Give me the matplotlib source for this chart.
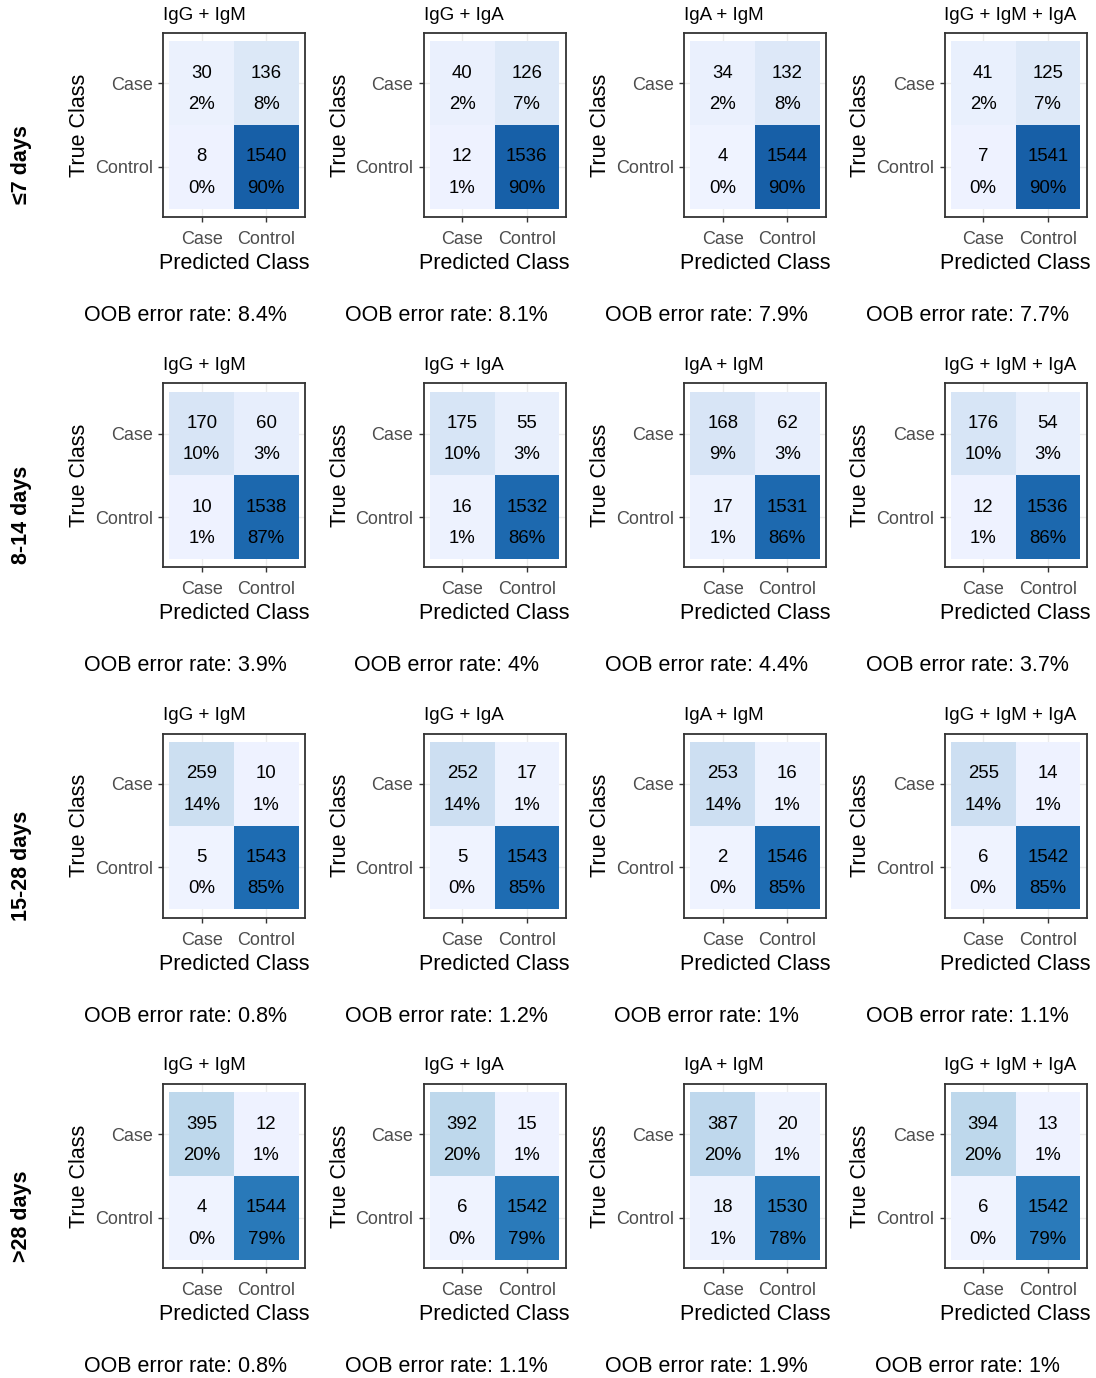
import matplotlib
matplotlib.use('Agg')
import matplotlib.pyplot as plt
import numpy as np
from matplotlib.colors import LinearSegmentedColormap

plt.rcParams['font.family'] = ['Liberation Sans', 'DejaVu Sans']

time_windows = ['≤7 days', '8-14 days', '15-28 days', '>28 days']
combos = ['IgG + IgM', 'IgG + IgA', 'IgA + IgM', 'IgG + IgM + IgA']
classes = ['Case', 'Control']

# confusion counts per panel:
# [Case->Case, Case->Control, Control->Case, Control->Control] (true -> predicted)
counts_7d = [[30, 136, 8, 1540], [40, 126, 12, 1536], [34, 132, 4, 1544], [41, 125, 7, 1541]]
counts_8_14d = [[170, 60, 10, 1538], [175, 55, 16, 1532], [168, 62, 17, 1531], [176, 54, 12, 1536]]
counts_15_28d = [[259, 10, 5, 1543], [252, 17, 5, 1543], [253, 16, 2, 1546], [255, 14, 6, 1542]]
counts_28d = [[395, 12, 4, 1544], [392, 15, 6, 1542], [387, 20, 18, 1530], [394, 13, 6, 1542]]

oob_7d = [8.4, 8.1, 7.9, 7.7]
oob_8_14d = [3.9, 4, 4.4, 3.7]
oob_15_28d = [0.8, 1.2, 1, 1.1]
oob_28d = [0.8, 1.1, 1.9, 1]

all_counts = [counts_7d, counts_8_14d, counts_15_28d, counts_28d]
all_oob = [oob_7d, oob_8_14d, oob_15_28d, oob_28d]

# brewer Blues (7 classes), as used by ggplot's distiller scale
blues = LinearSegmentedColormap.from_list(
    'blues7', ['#EFF3FF', '#C6DBEF', '#9ECAE1', '#6BAED6', '#4292C6', '#2171B5', '#084594'])

W, H = 1096, 1378
fig = plt.figure(figsize=(W / 100, H / 100), dpi=100)

pw, ph = 142, 184
col_x = [163 + 260.5 * c for c in range(4)]
row_y = [33 + 350.33 * r for r in range(4)]

edges = [0.5, 1.5, 2.5]

for r, window in enumerate(time_windows):
    fig.text(22 / W, 1 - (row_y[r] + 132) / H, window, rotation=90,
             ha='center', va='center', fontsize=15.5, fontweight='bold')
    for c, combo in enumerate(combos):
        tp, fn, fp, tn = all_counts[r][c]
        total = tp + fn + fp + tn
        ax = fig.add_axes([col_x[c] / W, 1 - (row_y[r] + ph) / H, pw / W, ph / H])

        # rows: y=1 Control (bottom), y=2 Case (top); cols: x=1 Case, x=2 Control
        grid = np.array([[fp, tn], [tp, fn]]) / total
        ax.pcolormesh(edges, edges, grid, cmap=blues, vmin=0, vmax=1, zorder=1)

        cells = [(1, 2, tp), (2, 2, fn), (1, 1, fp), (2, 1, tn)]
        for x, y, n in cells:
            ax.annotate(str(n), (x, y), xytext=(0, 4.0), textcoords='offset points',
                        ha='center', va='baseline', fontsize=13.4, color='black', zorder=3)
            ax.annotate(f'{round(100 * n / total)}%', (x, y), xytext=(0, -18.7),
                        textcoords='offset points', ha='center', va='baseline',
                        fontsize=13.4, color='black', zorder=3)

        ax.set_xlim(0.4, 2.6)
        ax.set_ylim(0.4, 2.6)
        ax.set_xticks([1, 2], classes)
        ax.set_yticks([2, 1], classes)
        ax.tick_params(length=3.6, width=1, color='#333333', pad=3.6,
                       labelsize=13, labelcolor='#4D4D4D')
        ax.tick_params(axis='x', pad=6.4)
        ax.grid(True, color='#EBEBEB', lw=1)
        ax.set_axisbelow(True)
        for s in ax.spines.values():
            s.set_color('#333333')
            s.set_linewidth(1.3)

        ax.text(0, 1 + 13.5 / ph, combo, transform=ax.transAxes,
                ha='left', va='baseline', fontsize=13.5)
        ax.text(0.5, -52 / ph, 'Predicted Class', transform=ax.transAxes,
                ha='center', va='baseline', fontsize=15.5)
        ax.text(-83.5 / pw, 0.5, 'True Class', transform=ax.transAxes, rotation=90,
                ha='center', va='center', fontsize=15.5)
        ax.text(0.5 - 48.5 / pw, -104 / ph, f'OOB error rate: {all_oob[r][c]:g}%',
                transform=ax.transAxes, ha='center', va='baseline', fontsize=15.5)

fig.savefig('out.png', dpi=100, facecolor='white')
